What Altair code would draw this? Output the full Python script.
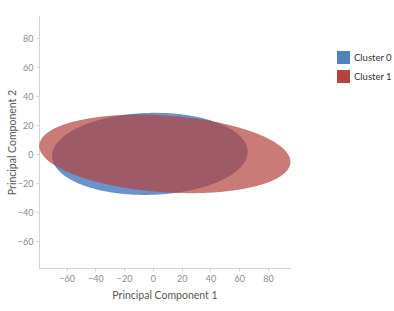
import altair as alt
import numpy as np
import pandas as pd

# Ellipse parameters (data units)
clusters = ["Cluster 0", "Cluster 1"]
center_x = [-2.1, 8.3]
center_y = [0.2, 0.2]
semi_major = [68.0, 87.5]
semi_minor = [28.3, 26.5]
angle_deg = [1.5, -4.0]

x_ticks = [-60, -40, -20, 0, 20, 40, 60, 80]
y_ticks = [-60, -40, -20, 0, 20, 40, 60, 80]
colors = ["#4f81bd", "#b5433f"]
opacities = [0.85, 0.71]


def ellipse_band(name, cx, cy, a, b, deg, n=241):
    th = np.radians(deg)
    c, s = np.cos(th), np.sin(th)
    A = c * c / a**2 + s * s / b**2
    B = 2 * s * c * (1 / a**2 - 1 / b**2)
    C = s * s / a**2 + c * c / b**2
    xext = np.sqrt(4 * C / (4 * A * C - B * B))
    xs = xext * np.cos(np.linspace(np.pi, 0, n))
    disc = np.clip(B * B * xs * xs - 4 * C * (A * xs * xs - 1), 0, None)
    y_hi = (-B * xs + np.sqrt(disc)) / (2 * C)
    y_lo = (-B * xs - np.sqrt(disc)) / (2 * C)
    return pd.DataFrame({"cluster": name,
                         "x": [float(v) for v in xs + cx],
                         "y": [float(v) for v in y_hi + cy],
                         "y2": [float(v) for v in y_lo + cy]})


frames = [ellipse_band(clusters[i], center_x[i], center_y[i], semi_major[i],
                       semi_minor[i], angle_deg[i]) for i in range(2)]

font = "Lato"
xscale = alt.Scale(domain=[-79.2, 95.3], nice=False, zero=False)
yscale = alt.Scale(domain=[-78.6, 95.4], nice=False, zero=False)
cscale = alt.Scale(domain=clusters, range=colors)

axis_common = dict(grid=False, domainColor="#d4d4d4", tickColor="#d4d4d4",
                   tickSize=3, labelColor="#8c8c8c", labelFontSize=9,
                   labelFont=font, titleFont=font, titleFontSize=10.5,
                   titleFontWeight="normal", titleColor="#595959", labelPadding=3)

layers = []
for i in range(2):
    layer = alt.Chart(frames[i]).mark_area(opacity=opacities[i]).encode(
        x=alt.X("x:Q", scale=xscale,
                axis=alt.Axis(title="Principal Component 1", values=x_ticks,
                              titlePadding=7, **axis_common)),
        y=alt.Y("y:Q", scale=yscale, stack=None,
                axis=alt.Axis(title="Principal Component 2", values=y_ticks,
                              titlePadding=0, **axis_common)),
        y2="y2:Q",
        color=alt.Color("cluster:N", scale=cscale,
                        legend=alt.Legend(title=None, orient="none", legendX=298,
                                          legendY=35, symbolType="square",
                                          symbolSize=169, symbolOpacity=1,
                                          symbolStrokeWidth=0, labelFont=font,
                                          labelFontSize=9.5, labelColor="#333333",
                                          rowPadding=6, labelOffset=4, padding=0)),
    )
    layers.append(layer)

chart = alt.layer(*layers).properties(
    width=251, height=252,
    background="white",
    autosize=alt.AutoSizeParams(type="none"),
    padding={"left": 39, "top": 16, "right": 104, "bottom": 43},
).configure_view(strokeWidth=0, stroke=None)

chart.save("out.html", embed_options={"renderer": "svg", "actions": False})
